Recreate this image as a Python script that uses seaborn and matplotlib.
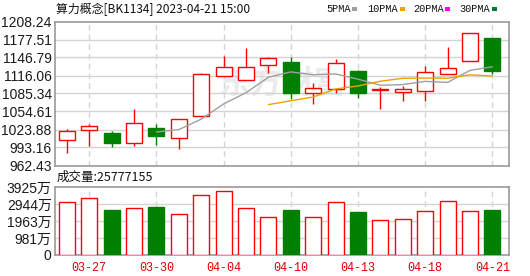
import numpy as np
import pandas as pd
import matplotlib
matplotlib.use("Agg")
import matplotlib.pyplot as plt
import seaborn as sns

# ---------------- data ----------------
dates = ["03-24", "03-27", "03-28", "03-29", "03-30", "03-31", "04-03", "04-04",
         "04-06", "04-07", "04-10", "04-11", "04-12", "04-13", "04-14", "04-17",
         "04-18", "04-19", "04-20", "04-21"]
opens = [1005.4, 1023.0, 1017.9, 1000.3, 1026.4, 1008.9, 1046.4, 1114.7, 1107.9, 1133.5,
         1139.1, 1085.7, 1092.5, 1123.7, 1090.8, 1087.4, 1090.1, 1118.1, 1140.3, 1180.1]
closes = [1021.3, 1029.3, 1000.0, 1034.5, 1013.3, 1041.3, 1118.6, 1130.1, 1130.1, 1145.4,
          1086.7, 1094.2, 1136.9, 1085.7, 1093.5, 1092.5, 1121.5, 1128.4, 1188.1, 1124.2]
highs = [1024.7, 1032.7, 1021.8, 1058.9, 1033.8, 1041.3, 1120.3, 1149.3, 1163.0, 1148.1,
         1148.1, 1103.8, 1143.7, 1125.4, 1095.9, 1098.6, 1132.8, 1165.2, 1188.1, 1180.1]
lows = [984.3, 995.7, 994.0, 996.2, 997.9, 991.1, 1046.4, 1114.7, 1107.9, 1120.8,
        1075.9, 1066.9, 1085.7, 1078.2, 1058.4, 1073.0, 1073.0, 1118.1, 1140.3, 1118.1]
volumes_wan = [3046, 3316, 2586, 2740, 2758, 2356, 3448, 3678, 2740, 2165,
               2586, 2222, 3084, 2471, 1992, 2069, 2567, 3142, 2567, 2586]

price_ticks = [962.43, 993.16, 1023.88, 1054.61, 1085.34, 1116.06, 1146.79, 1177.51, 1208.24]
price_tick_labels = ["962.43", "993.16", "1023.88", "1054.61", "1085.34", "1116.06",
                     "1146.79", "1177.51", "1208.24"]
vol_ticks = [0, 981.25, 1962.5, 2943.75, 3925]
vol_tick_labels = ["0", "981万", "1963万", "2944万", "3925万"]
date_tick_idx = [1, 4, 7, 10, 13, 16, 19]

title_text = "算力概念[BK1134] 2023-04-21 15:00"
vol_title = "成交量:25777155"
ma_names = ["5PMA", "10PMA", "20PMA", "30PMA"]
ma_windows = [5, 10, 20, 30]
ma_colors = ["#a0a0a0", "#f0a000", "#ff00ff", "#007a33"]

# ---------------- styling ----------------
sns.set_theme(style="white")
plt.rcParams["font.family"] = ["Liberation Sans", "Noto Sans CJK SC", "DejaVu Sans"]

UP = "#ff0000"
DOWN = "#008000"
GRID = "#d4d4d4"
BORDER = "#9a9a9a"

df = pd.DataFrame({"idx": np.arange(len(dates)), "date": dates, "open": opens,
                   "close": closes, "high": highs, "low": lows, "vol": volumes_wan})
df["dir"] = np.where(df["close"] >= df["open"], "up", "down")
for n, w in zip(ma_names, ma_windows):
    df[n] = df["close"].rolling(w).mean()

W, H = 530, 276
fig = plt.figure(figsize=(W / 100, H / 100), dpi=100)
fig.patch.set_facecolor("white")

def ax_rect(l, t, r, b):
    return [l / W, 1 - b / H, (r - l) / W, (b - t) / H]

ax1 = fig.add_axes(ax_rect(54.5, 21.5, 509, 165.5))
ax2 = fig.add_axes(ax_rect(54.5, 187, 509, 255))

XL = (-0.55, 19.74)

# ---------------- price panel ----------------
bw = 0.72
for _, r in df.iterrows():
    i = r["idx"]
    if r["dir"] == "up":
        top, bot = r["close"], r["open"]
        if r["high"] > top:
            ax1.vlines(i, top, r["high"], color=UP, lw=1.0, zorder=3)
        if r["low"] < bot:
            ax1.vlines(i, r["low"], bot, color=UP, lw=1.0, zorder=3)
        ax1.bar(i, top - bot, bottom=bot, width=bw, facecolor="white",
                edgecolor=UP, linewidth=1.0, zorder=4)
    else:
        ax1.vlines(i, r["low"], r["high"], color=DOWN, lw=1.0, zorder=3)
        ax1.bar(i, r["open"] - r["close"], bottom=r["close"], width=bw,
                facecolor=DOWN, edgecolor=DOWN, linewidth=1.0, zorder=4)

for n, c in zip(ma_names, ma_colors):
    sub = df.dropna(subset=[n])
    if len(sub) > 1:
        sns.lineplot(data=sub, x="idx", y=n, color=c, lw=1.0, ax=ax1, zorder=5)

ax1.set_xlim(*XL)
ax1.set_ylim(price_ticks[0], price_ticks[-1])
ax1.set_yticks(price_ticks)
ax1.set_yticklabels(price_tick_labels)
ax1.set_xticks([])
ax1.set_xlabel("")
ax1.set_ylabel("")
for y in price_ticks[1:-1]:
    ax1.axhline(y, color=GRID, lw=1.0, zorder=1)
for i in date_tick_idx:
    ax1.axvline(i, color=GRID, lw=1.0, ls=(0, (4, 3)), zorder=1)

ax1.text(0.5, 0.56, "东方财富", transform=ax1.transAxes, ha="center", va="center",
         fontsize=23, color="#ebebee", family=["Noto Sans CJK SC"], zorder=0.5,
         fontweight="bold")

# ---------------- volume panel ----------------
sns.barplot(data=df, x="idx", y="vol", hue="dir", dodge=False, width=bw,
            palette={"up": UP, "down": DOWN}, saturation=1, legend=False, ax=ax2,
            zorder=4)
for p in ax2.patches:
    fc = p.get_facecolor()
    if fc[0] > 0.9 and fc[1] < 0.2:
        p.set_facecolor("white")
        p.set_edgecolor(UP)
        p.set_linewidth(1.0)
    else:
        p.set_edgecolor(DOWN)
        p.set_linewidth(1.0)

ax2.set_xlim(*XL)
ax2.set_ylim(0, vol_ticks[-1])
ax2.set_yticks(vol_ticks)
ax2.set_yticklabels(vol_tick_labels)
ax2.set_xticks(date_tick_idx)
ax2.set_xticklabels([dates[i] for i in date_tick_idx])
ax2.set_xlabel("")
ax2.set_ylabel("")
for y in vol_ticks[1:-1]:
    ax2.axhline(y, color=GRID, lw=1.0, zorder=1)
for i in date_tick_idx:
    ax2.axvline(i, color=GRID, lw=1.0, ls=(0, (4, 3)), zorder=1)

for ax in (ax1, ax2):
    ax.set_facecolor("white")
    for s in ax.spines.values():
        s.set_color(BORDER)
        s.set_linewidth(1.2)
    ax.tick_params(axis="y", length=0, pad=2, labelsize=10, labelcolor="#1a1a1a")
    ax.grid(False)

ax2.tick_params(axis="x", length=0, pad=5, labelsize=8.5, labelcolor="#e00000")
for t in ax2.get_xticklabels():
    t.set_family(["Liberation Mono", "DejaVu Sans Mono"])

# ---------------- texts ----------------
fig.text(56 / W, 1 - 9 / H, title_text, ha="left", va="center", fontsize=8.6,
         color="#111111", family=["Noto Sans CJK SC", "DejaVu Sans"])
fig.text(57 / W, 1 - 177 / H, vol_title, ha="left", va="center", fontsize=9,
         color="#111111", family=["Noto Sans CJK SC", "DejaVu Sans"])

leg_x = [326, 367, 413, 459]
sq_x = [352, 400, 445, 492]
for name, c, lx, sx in zip(ma_names, ma_colors, leg_x, sq_x):
    fig.text(lx / W, 1 - 9 / H, name, ha="left", va="center", fontsize=7.4,
             color="#111111", family=["Liberation Mono", "DejaVu Sans Mono"])
    fig.patches.append(plt.Rectangle((sx / W, 1 - 11 / H), 5 / W, 4 / H,
                                     transform=fig.transFigure, facecolor=c,
                                     edgecolor="none", figure=fig))

fig.savefig("out.png", dpi=100, facecolor="white")
